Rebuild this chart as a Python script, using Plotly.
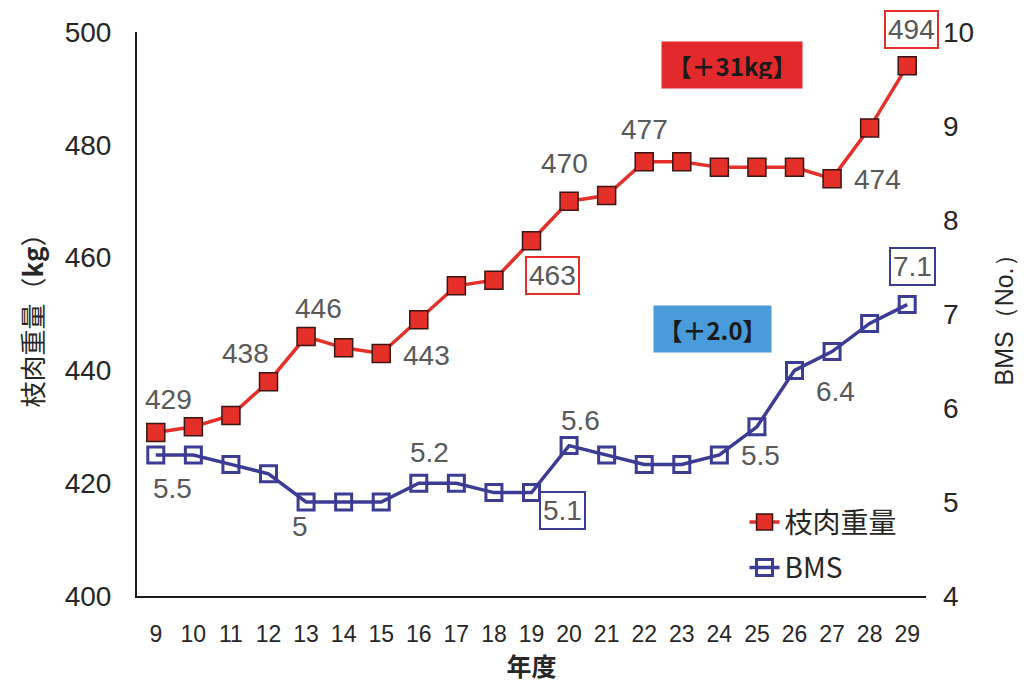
import plotly.graph_objects as go

# Fiscal years (Heisei)
years = list(range(9, 30))
# Carcass weight (kg)
carcass_kg = [429, 430, 432, 438, 446, 444, 443, 449, 455, 456, 463,
              470, 471, 477, 477, 476, 476, 476, 474, 483, 494]
# Beef marbling standard number
bms = [5.5, 5.5, 5.4, 5.3, 5.0, 5.0, 5.0, 5.2, 5.2, 5.1, 5.1,
       5.6, 5.5, 5.4, 5.4, 5.5, 5.8, 6.4, 6.6, 6.9, 7.1]

# Which points get a value label: year -> (text, dx, dy, boxed)
carcass_labels = {9: ("429", 13, -33, False), 12: ("438", -23, -28, False),
                  13: ("446", 12, -28, False), 15: ("443", 45, 2, False),
                  19: ("463", 21, 35, True), 20: ("470", -5, -38, False),
                  22: ("477", 0, -32, False), 27: ("474", 45, 1, False),
                  29: ("494", 4, -36, True)}
bms_labels = {9: ("5.5", 17, 33, False), 13: ("5", -6, 24, False),
              16: ("5.2", 11, -31, False), 19: ("5.1", 31, 18, True),
              20: ("5.6", 11, -25, False), 24: ("5.5", 41, 0, False),
              26: ("6.4", 41, 21, False), 29: ("7.1", 5, -38, True)}

RED = "#e5302a"
BLUE = "#3c3c94"
FONT = "Liberation Sans, Arial, sans-serif"
CJK = "Noto Sans CJK JP, sans-serif"
INK = "#262626"

fig = go.Figure()
fig.add_trace(go.Scatter(
    x=years, y=carcass_kg, name="枝肉重量", mode="lines+markers",
    legendgroup="w",
    line=dict(color=RED, width=3.5),
    marker=dict(symbol="square", size=18, color=RED,
                line=dict(color="#3a1512", width=1.5)),
    yaxis="y"))
fig.add_trace(go.Scatter(
    x=years, y=bms, name="BMS", mode="lines+markers",
    legendgroup="b",
    line=dict(color=BLUE, width=3.5),
    marker=dict(symbol="square-open", size=16, color=BLUE,
                line=dict(color=BLUE, width=3)),
    yaxis="y2"))

annotations = []
for series, labels, yref, col in ((carcass_kg, carcass_labels, "y", RED),
                                   (bms, bms_labels, "y2", BLUE)):
    for yr, (txt, dx, dy, boxed) in labels.items():
        val = series[years.index(yr)]
        annotations.append(dict(
            x=yr, y=val, xref="x", yref=yref, text=txt, showarrow=False,
            xshift=dx, yshift=-dy,
            font=dict(family=FONT, size=28, color="#595959"),
            bordercolor=col if boxed else "rgba(0,0,0,0)",
            borderwidth=2 if boxed else 0, borderpad=2,
            bgcolor="white" if boxed else "rgba(0,0,0,0)"))

# Highlight boxes with the overall gains
annotations.append(dict(
    x=0.754, y=0.942, xref="paper", yref="paper", showarrow=False,
    xanchor="center", yanchor="middle",
    text="<b>【＋31kg】</b>", font=dict(family=CJK, size=24, color="#1a1a1a"),
    bgcolor="#e2292b", borderpad=9, width=122, height=28))
annotations.append(dict(
    x=0.730, y=0.474, xref="paper", yref="paper", showarrow=False,
    xanchor="center", yanchor="middle",
    text="<b>【＋2.0】</b>", font=dict(family=CJK, size=24, color="#1a1a1a"),
    bgcolor="#4a9bd9", borderpad=9, width=99, height=28))

fig.update_layout(
    width=1026, height=686,
    margin=dict(l=137, r=96, t=32, b=89),
    paper_bgcolor="white", plot_bgcolor="white",
    font=dict(family=FONT, size=22, color=INK),
    showlegend=True,
    legend=dict(x=0.77, y=0.175, xanchor="left", yanchor="top",
                font=dict(family=CJK, size=28, color=INK),
                bgcolor="rgba(0,0,0,0)", tracegroupgap=6, itemwidth=30),
    xaxis=dict(range=[8.5, 29.5], tickmode="array", tickvals=years,
               ticktext=[str(y) for y in years], showgrid=False,
               showline=True, linecolor="#1a1a1a", linewidth=2,
               ticks="", zeroline=False, ticklabelstandoff=16,
               tickfont=dict(family=FONT, size=23, color=INK),
               title=dict(text="<b>年度</b>", standoff=10,
                          font=dict(family=CJK, size=25, color=INK))),
    yaxis=dict(range=[400, 500], dtick=20, showgrid=False, showline=True,
               linecolor="#1a1a1a", linewidth=2, ticks="", zeroline=False,
               ticklabelstandoff=18,
               tickfont=dict(family=FONT, size=28, color=INK),
               title=dict(text="枝肉重量（<b>kg</b>）", standoff=14,
                          font=dict(family=CJK, size=26, color=INK))),
    yaxis2=dict(range=[4, 10], dtick=1, overlaying="y", side="right",
                showgrid=False, showline=False, ticks="", zeroline=False,
                ticklabelstandoff=16,
                tickfont=dict(family=FONT, size=28, color=INK),
                title=dict(text="BMS（No.）", standoff=22,
                           font=dict(family=FONT, size=25, color=INK))),
    annotations=annotations,
)

fig.write_html("out.html")
